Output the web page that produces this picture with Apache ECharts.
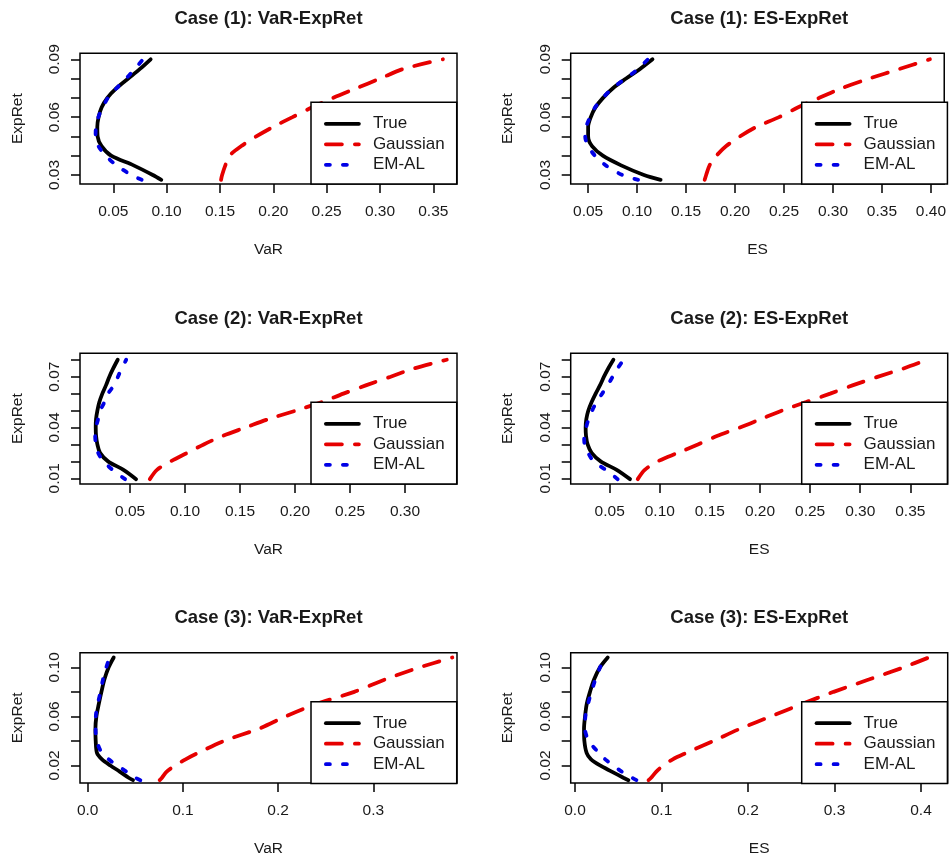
<!DOCTYPE html>
<html><head><meta charset="utf-8">
<script src="https://cdn.jsdelivr.net/npm/echarts@6/dist/echarts.min.js"></script>
<style>html,body{margin:0;padding:0;background:#fff}#c{width:949px;height:858px}</style>
</head><body><div id="c"></div>
<script>
// ---------- DATA ----------
// Case (1)
const ret1 = [0.0275, 0.03, 0.035, 0.04, 0.045, 0.05, 0.055, 0.06, 0.065, 0.07, 0.075, 0.08, 0.085, 0.09];
const var1True  = [0.095, 0.087, 0.069, 0.048, 0.039, 0.0353, 0.035, 0.0362, 0.039, 0.0444, 0.053, 0.064, 0.075, 0.085];
const var1Gauss = [0.151, 0.152, 0.155, 0.159, 0.170, 0.184, 0.200, 0.218, 0.236, 0.256, 0.278, 0.300, 0.322, 0.359];
const var1EMAL  = [0.0766, 0.067, 0.053, 0.043, 0.036, 0.0334, 0.0338, 0.036, 0.040, 0.045, 0.053, 0.062, 0.070, 0.078];
const es1True   = [0.124, 0.107, 0.0837, 0.065, 0.054, 0.050, 0.050, 0.0527, 0.0574, 0.0652, 0.0753, 0.0888, 0.103, 0.1157];
const es1Gauss  = [0.169, 0.1705, 0.174, 0.181, 0.191, 0.205, 0.222, 0.245, 0.264, 0.286, 0.309, 0.337, 0.368, 0.399];
const es1EMAL   = [0.101, 0.085, 0.068, 0.057, 0.050, 0.047, 0.048, 0.052, 0.057, 0.065, 0.075, 0.088, 0.101, 0.111];
// Case (2)
const ret2 = [0.0095, 0.015, 0.02, 0.025, 0.03, 0.035, 0.04, 0.045, 0.05, 0.055, 0.06, 0.065, 0.07, 0.075, 0.08];
const var2True  = [0.0555, 0.044, 0.030, 0.0227, 0.0203, 0.0191, 0.0188, 0.0191, 0.0203, 0.0221, 0.0248, 0.0282, 0.0312, 0.0348, 0.0388];
const var2Gauss = [0.068, 0.0745, 0.087, 0.102, 0.117, 0.134, 0.155, 0.176, 0.201, 0.2245, 0.244, 0.265, 0.287, 0.309, 0.338];
const var2EMAL  = [0.0455, 0.034, 0.026, 0.021, 0.019, 0.0183, 0.019, 0.021, 0.023, 0.0267, 0.030, 0.0355, 0.039, 0.0425, 0.0465];
const es2True   = [0.0703, 0.057, 0.041, 0.032, 0.028, 0.0264, 0.026, 0.0267, 0.0287, 0.032, 0.036, 0.0404, 0.0443, 0.0487, 0.0537];
const es2Gauss  = [0.078, 0.085, 0.098, 0.118, 0.138, 0.157, 0.180, 0.201, 0.222, 0.246, 0.270, 0.293, 0.318, 0.344, 0.367];
const es2EMAL   = [0.058, 0.046, 0.034, 0.0285, 0.025, 0.0245, 0.0265, 0.029, 0.0325, 0.037, 0.0425, 0.048, 0.053, 0.058, 0.064];
// Case (3)
const ret3 = [0.008, 0.01, 0.015, 0.02, 0.025, 0.03, 0.04, 0.05, 0.06, 0.07, 0.08, 0.09, 0.10, 0.108];
const var3True  = [0.0476, 0.043, 0.0336, 0.0238, 0.015, 0.0098, 0.0084, 0.0081, 0.0091, 0.0116, 0.0144, 0.0175, 0.022, 0.0273];
const var3Gauss = [0.0756, 0.078, 0.083, 0.092, 0.1028, 0.1154, 0.143, 0.180, 0.208, 0.240, 0.280, 0.312, 0.349, 0.383];
const var3EMAL  = [0.0553, 0.050, 0.0406, 0.031, 0.022, 0.015, 0.0095, 0.0083, 0.0085, 0.0105, 0.0135, 0.016, 0.0195, 0.023];
const es3True   = [0.0617, 0.0559, 0.0424, 0.0289, 0.0185, 0.0135, 0.0108, 0.0104, 0.0116, 0.0135, 0.0173, 0.022, 0.0289, 0.0378];
const es3Gauss  = [0.085, 0.088, 0.094, 0.102, 0.113, 0.128, 0.160, 0.191, 0.2266, 0.262, 0.299, 0.3396, 0.380, 0.409];
const es3EMAL   = [0.071, 0.066, 0.054, 0.044, 0.035, 0.028, 0.016, 0.0115, 0.012, 0.015, 0.019, 0.0235, 0.029, 0.035];

// Tick values / labels
const xTicks1 = [0.05, 0.10, 0.15, 0.20, 0.25, 0.30, 0.35];
const xTicks2 = [0.05, 0.10, 0.15, 0.20, 0.25, 0.30, 0.35, 0.40];
const xTicks3 = [0.05, 0.10, 0.15, 0.20, 0.25, 0.30];
const xTicks4 = [0.05, 0.10, 0.15, 0.20, 0.25, 0.30, 0.35];
const xTicks5 = [0.0, 0.1, 0.2, 0.3];
const xTicks6 = [0.0, 0.1, 0.2, 0.3, 0.4];
const yTicksC1 = [0.03, 0.04, 0.05, 0.06, 0.07, 0.08, 0.09];
const yLabelsC1 = [0.03, 0.06, 0.09];
const yTicksC2 = [0.01, 0.02, 0.03, 0.04, 0.05, 0.06, 0.07, 0.08];
const yLabelsC2 = [0.01, 0.04, 0.07];
const yTicksC3 = [0.02, 0.04, 0.06, 0.08, 0.10];
const yLabelsC3 = [0.02, 0.06, 0.10];

const seriesNames = ['True', 'Gaussian', 'EM-AL'];
const titles = ['Case (1): VaR-ExpRet', 'Case (1): ES-ExpRet', 'Case (2): VaR-ExpRet', 'Case (2): ES-ExpRet', 'Case (3): VaR-ExpRet', 'Case (3): ES-ExpRet'];

// ---------- LAYOUT ----------
const FONT = '"Liberation Sans", Arial, Helvetica, sans-serif';
const colLeft = [80, 570.7];
const rowTop = [53.3, 353.3, 652.7];
const W = 377, H = 130.7;

const panels = [
  {ret: ret1, d: [var1True, var1Gauss, var1EMAL], xName: 'VaR', xr: [0.01878, 0.3722], yr: [0.02533, 0.0931], xt: xTicks1, xd: 2, yt: yTicksC1, yl: yLabelsC1, yd: 2},
  {ret: ret1, d: [es1True, es1Gauss, es1EMAL],   xName: 'ES',  xr: [0.0322, 0.4136],  yr: [0.02533, 0.0931], xt: xTicks2, xd: 2, yt: yTicksC1, yl: yLabelsC1, yd: 2},
  {ret: ret2, d: [var2True, var2Gauss, var2EMAL], xName: 'VaR', xr: [0.0045, 0.3473], yr: [0.00663, 0.0838], xt: xTicks3, xd: 2, yt: yTicksC2, yl: yLabelsC2, yd: 2},
  {ret: ret2, d: [es2True, es2Gauss, es2EMAL],   xName: 'ES',  xr: [0.0111, 0.3873],  yr: [0.00663, 0.0838], xt: xTicks4, xd: 2, yt: yTicksC2, yl: yLabelsC2, yd: 2},
  {ret: ret3, d: [var3True, var3Gauss, var3EMAL], xName: 'VaR', xr: [-0.0081, 0.3879], yr: [0.0057, 0.1119], xt: xTicks5, xd: 1, yt: yTicksC3, yl: yLabelsC3, yd: 2},
  {ret: ret3, d: [es3True, es3Gauss, es3EMAL],   xName: 'ES',  xr: [-0.005, 0.4309],  yr: [0.0057, 0.1119], xt: xTicks6, xd: 1, yt: yTicksC3, yl: yLabelsC3, yd: 2}
];

const styles = [
  {color: '#000000', width: 3.8, type: 'solid', cap: 'round'},
  {color: '#e60000', width: 3.8, type: [16, 13], cap: 'round'},
  {color: '#0000e6', width: 3.8, type: [4, 13], cap: 'round'}
];

const grid = [], xAxis = [], yAxis = [], series = [], legend = [], graphic = [];
panels.forEach((p, i) => {
  const left = colLeft[i % 2], top = rowTop[Math.floor(i / 2)];
  grid.push({left: left, top: top, width: W, height: H, show: true, borderColor: '#000', borderWidth: 1.5, backgroundColor: 'transparent', containLabel: false});
  xAxis.push({
    type: 'value', gridIndex: i, min: p.xr[0], max: p.xr[1],
    axisLine: {show: false, onZero: false}, splitLine: {show: false},
    axisTick: {show: true, length: 9, lineStyle: {color: '#000', width: 1.5}, customValues: p.xt},
    axisLabel: {customValues: p.xt, formatter: v => v.toFixed(p.xd), margin: 20, fontSize: 15.5, fontFamily: FONT, color: '#1a1a1a'},
    name: p.xName, nameLocation: 'middle', nameGap: 58,
    nameTextStyle: {fontSize: 15.5, fontFamily: FONT, color: '#1a1a1a'}
  });
  yAxis.push({
    type: 'value', gridIndex: i, min: p.yr[0], max: p.yr[1],
    axisLine: {show: false, onZero: false}, splitLine: {show: false},
    axisTick: {show: true, length: 9, lineStyle: {color: '#000', width: 1.5}, customValues: p.yt},
    axisLabel: {customValues: p.yl, formatter: v => v.toFixed(p.yd), rotate: 90, margin: 17, fontSize: 15.5, fontFamily: FONT, color: '#1a1a1a'},
    name: 'ExpRet', nameLocation: 'middle', nameGap: 54.5,
    nameTextStyle: {fontSize: 15.5, fontFamily: FONT, color: '#1a1a1a'}
  });
  seriesNames.forEach((nm, k) => {
    series.push({
      name: nm, type: 'line', xAxisIndex: i, yAxisIndex: i,
      symbol: 'none', smooth: 0.3, animation: false,
      data: p.ret.map((r, j) => [p.d[k][j], r]),
      lineStyle: styles[k], itemStyle: {color: styles[k].color},
      z: 2
    });
  });
  legend.push({
    orient: 'vertical', left: left + 231, top: top + 49,
    backgroundColor: '#fff', borderColor: '#000', borderWidth: 1.5, borderRadius: 0,
    padding: [11.5, 12, 9.2, 13],
    itemWidth: 33, itemHeight: 12, itemGap: 0.5,
    selectedMode: false,
    lineStyle: {width: 3.8},
    itemStyle: {color: 'rgba(0,0,0,0)', borderColor: 'rgba(0,0,0,0)', borderWidth: 0, opacity: 0},
    textStyle: {fontFamily: FONT, fontSize: 17, color: '#1a1a1a', lineHeight: 20, padding: [0, 0, 0, 9]},
    data: seriesNames
  });
  graphic.push({
    type: 'text', x: left + W / 2, y: top - 34.8, silent: true,
    style: {text: titles[i], fontFamily: FONT, fontSize: 18.5, fontWeight: 'bold', fill: '#1a1a1a', align: 'center', verticalAlign: 'middle'}
  });
});

const chart = echarts.init(document.getElementById('c'));
chart.setOption({
  animation: false,
  backgroundColor: '#fff',
  grid, xAxis, yAxis, series, legend, graphic
});
</script>
</body></html>
